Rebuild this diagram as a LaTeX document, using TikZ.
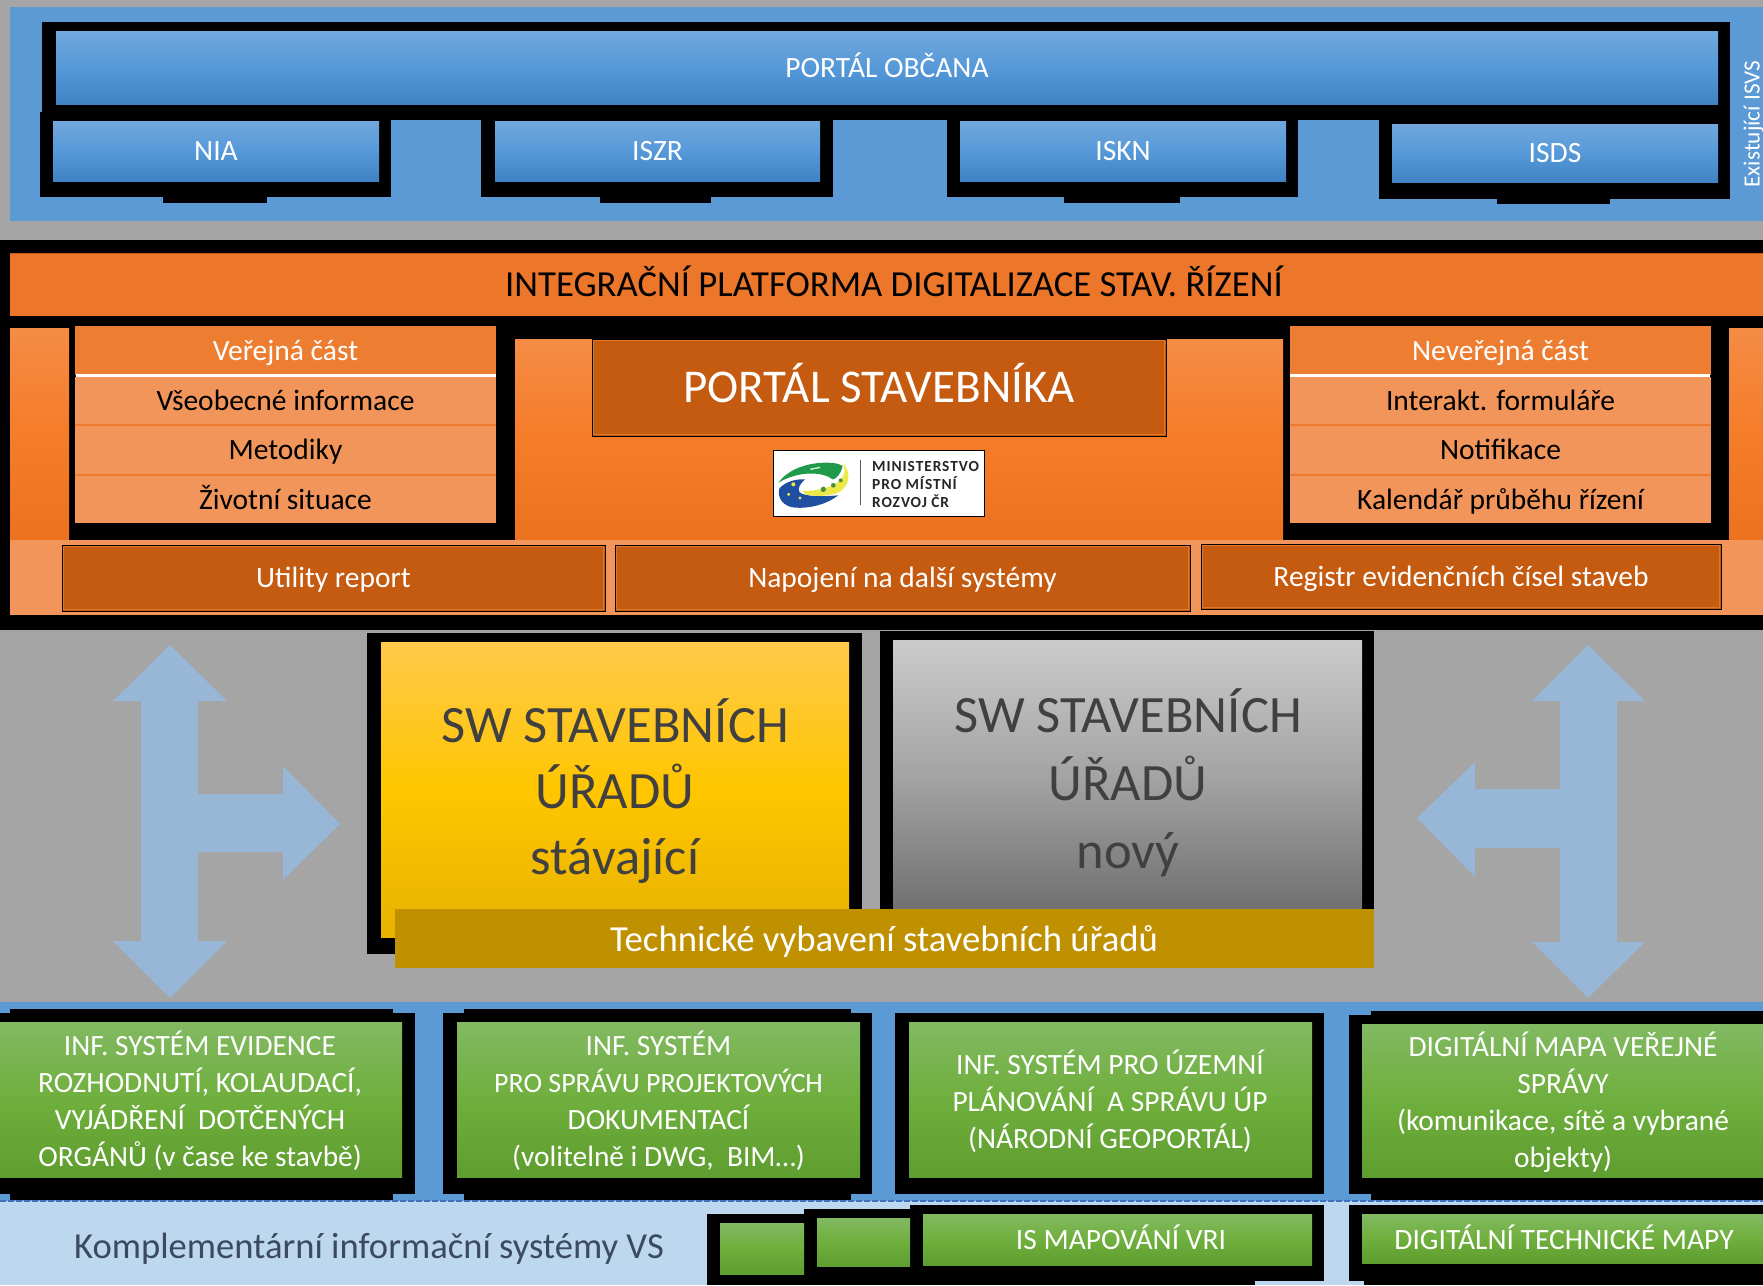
\documentclass[tikz,border=0pt]{standalone}
\usepackage{fontspec}
\setmainfont{Carlito}
\newfontfamily\logofont[LetterSpace=6]{Carlito Bold}
\definecolor{bggray}{HTML}{A5A5A5}
\definecolor{panelblue}{HTML}{5B9AD5}
\definecolor{lightblue}{HTML}{BDD7EE}
\definecolor{arrowblue}{HTML}{98B6D5}
\definecolor{barorange}{HTML}{EC772B}
\definecolor{headorange}{HTML}{ED7D31}
\definecolor{roworange}{HTML}{F2955A}
\definecolor{sepbright}{HTML}{F07A2E}
\definecolor{rust}{HTML}{C55A11}
\definecolor{rustin}{HTML}{E0762A}
\definecolor{techgold}{HTML}{BF9000}
\definecolor{darktext}{HTML}{404040}
\definecolor{slate}{HTML}{3B4A60}
\definecolor{dashblue}{HTML}{3F6FBF}
\definecolor{blua}{HTML}{71A7DC}
\definecolor{blub}{HTML}{5699D9}
\definecolor{bluc}{HTML}{3F83C4}
\definecolor{greena}{HTML}{82B962}
\definecolor{greenb}{HTML}{6FAF3D}
\definecolor{greenc}{HTML}{5E9D2F}
\definecolor{oranga}{HTML}{F58C45}
\definecolor{orangb}{HTML}{F57C29}
\definecolor{orangc}{HTML}{EC7220}
\definecolor{yella}{HTML}{FFC94A}
\definecolor{yellb}{HTML}{FFC600}
\definecolor{yellc}{HTML}{E8B200}
\definecolor{graya}{HTML}{CBCBCB}
\definecolor{grayb}{HTML}{A3A3A3}
\definecolor{grayc}{HTML}{6E6E6E}
\definecolor{logoblue}{HTML}{1F4FA0}
\definecolor{logogreen}{HTML}{1F9A4A}
\definecolor{logoyellow}{HTML}{EDE84A}
\definecolor{logotree}{HTML}{4E8F3A}
\tikzset{
  bluebox/.style={rectangle,top color=blua,bottom color=bluc,middle color=blub,text=white},
  greenbox/.style={rectangle,top color=greena,bottom color=greenc,middle color=greenb,text=white,align=center},
  orangeside/.style={rectangle,top color=oranga,bottom color=orangc,middle color=orangb},
  headbox/.style={rectangle,fill=headorange,text=white},
  rowbox/.style={rectangle,fill=roworange,text=black},
  rustbox/.style={rectangle,fill=rust,draw=black,line width=1pt,text=white},
  sizeS/.style={font=\fontsize{29.5}{37}\selectfont,text height=25pt,text depth=6pt},
  sizeG/.style={font=\fontsize{29.4}{37}\selectfont,text=white,align=center,inner sep=0pt},
  sizeM/.style={font=\fontsize{36.7}{44}\selectfont,text height=31pt,text depth=7.5pt},
  sizeL/.style={font=\fontsize{47}{52}\selectfont,text height=40pt,text depth=10pt},
  sizeX/.style={font=\fontsize{52.5}{#1}\selectfont,text=darktext,align=center,inner sep=0pt},
  logotext/.style={anchor=west,inner sep=0pt,font=\logofont\fontsize{15.4}{17}\selectfont,text=black!85},
  arrowshape/.style={fill=arrowblue,draw=none},
}
\newcommand\bx[7]{%
  \pgfmathsetmacro\bxw{#5-#3}\pgfmathsetmacro\bxh{#6-#4}%
  \pgfmathsetmacro\bxcx{(#5+#3)/2}\pgfmathsetmacro\bxcy{(#6+#4)/2}%
  \node[inner sep=0pt,outer sep=0pt,minimum width=\bxw pt,minimum height=\bxh pt,#1] (#2) at (\bxcx,\bxcy) {#7};}
\newcommand\kr[4]{\fill[black] (#1,#2) rectangle (#3,#4);}
\begin{document}
\begin{tikzpicture}[x=1pt,y=-1pt]
\useasboundingbox (0,0) rectangle (1763,1285);
\fill[bggray] (0,0) rectangle (1763,1285);
% top panel
\fill[panelblue] (10,7) rectangle (1763,221);
\kr{42}{22}{1730}{120}
\kr{40}{112}{391}{197}\kr{163}{197}{267}{203}
\kr{481}{120}{833}{197}\kr{600}{197}{711}{203}
\kr{947}{120}{1298}{197}\kr{1064}{197}{1180}{203}
\kr{1379}{120}{1730}{199}\kr{1497}{199}{1610}{204}
\bx{bluebox,sizeS}{obcan}{56}{31}{1718}{104}{PORTÁL OBČANA}
\bx{bluebox,sizeS}{nia}{53}{121}{379}{181}{NIA}
\bx{bluebox,sizeS}{iszr}{495}{121}{820}{181}{ISZR}
\bx{bluebox,sizeS}{iskn}{960}{121}{1286}{181}{ISKN}
\bx{bluebox,sizeS}{isds}{1392}{124}{1718}{182}{ISDS}
\node[text=white,font=\fontsize{23.2}{28}\selectfont,rotate=90,inner sep=0pt] (isvs) at (1753.5,124) {Existující ISVS};
% orange section
\fill[black] (0,240) rectangle (1763,630);
\bx{rectangle,fill=barorange}{integ}{10}{253}{1763}{316}{}
\fill[rust] (10,253) rectangle (1763,254);
\node[text=black,sizeM,inner sep=0pt] (integt) at (894,285) {INTEGRAČNÍ PLATFORMA DIGITALIZACE STAV. ŘÍZENÍ};
\bx{orangeside}{sidel}{10}{328}{69}{540}{}
\bx{orangeside}{sider}{1729}{328}{1763}{540}{}
\bx{orangeside}{centre}{515}{339}{1283}{540}{}
\bx{headbox,sizeS}{pubh}{75}{326}{496}{375}{Veřejná část}
\bx{rowbox,sizeS}{pub1}{75}{377}{496}{424}{Všeobecné informace}
\bx{rowbox,sizeS}{pub2}{75}{426}{496}{474}{Metodiky}
\bx{rowbox,sizeS}{pub3}{75}{476}{496}{523}{Životní situace}
\fill[white] (76,374) rectangle (496,377);
\fill[sepbright] (75,424) rectangle (496,426);
\fill[sepbright] (75,474) rectangle (496,476);
\bx{headbox,sizeS}{prih}{1290}{326}{1711}{375}{Neveřejná část}
\bx{rowbox,sizeS}{pri1}{1290}{377}{1711}{424}{Interakt. formuláře}
\bx{rowbox,sizeS}{pri2}{1290}{426}{1711}{474}{Notifikace}
\bx{rowbox,sizeS}{pri3}{1290}{476}{1711}{523}{Kalendář průběhu řízení}
\fill[white] (1290,374) rectangle (1710,377);
\fill[sepbright] (1290,424) rectangle (1711,426);
\fill[sepbright] (1290,474) rectangle (1711,476);
\fill[roworange] (10,540) rectangle (1763,615);
\bx{rustbox,sizeL}{stav}{592}{339}{1166}{436}{PORTÁL STAVEBNÍKA}
\draw[rustin,line width=.8pt] (593.5,340.5) rectangle (1164.5,434.5);
\bx{rustbox,sizeS}{util}{62}{545}{605}{611}{Utility report}
\bx{rustbox,sizeS}{napo}{615}{545}{1190}{611}{Napojení na další systémy}
\bx{rustbox,sizeS}{regi}{1201}{544}{1721}{609}{Registr evidenčních čísel staveb}
\draw[rustin,line width=.8pt] (63.5,546.5) rectangle (603.5,609.5);
\draw[rustin,line width=.8pt] (616.5,546.5) rectangle (1188.5,609.5);
\draw[rustin,line width=.8pt] (1202.5,545.5) rectangle (1719.5,607.5);
% logo
\bx{rectangle,fill=white,draw=black,line width=1pt}{logo}{773}{450}{984}{516}{}
\begin{scope}[shift={(770,446)},x=.3333pt,y=-.3333pt]
\fill[black!65] (271,42) rectangle (274,178);
\fill[logoblue] (28,128) .. controls (40,112) and (70,98) .. (105,100) .. controls (92,112) and (82,125) .. (88,138) .. controls (100,152) and (160,152) .. (205,148) .. controls (170,175) and (120,188) .. (75,185) .. controls (40,182) and (20,155) .. (28,128) -- cycle;
\fill[logogreen] (25,110) .. controls (55,70) and (110,50) .. (170,50) .. controls (190,50) and (205,52) .. (218,60) .. controls (212,85) and (200,98) .. (188,100) .. controls (160,78) and (90,72) .. (25,110) -- cycle;
\fill[logoyellow] (218,50) .. controls (245,80) and (240,120) .. (205,140) .. controls (175,152) and (130,152) .. (105,145) -- (98,135) .. controls (140,135) and (205,125) .. (222,85) .. controls (225,72) and (222,60) .. (218,50) -- cycle;
\fill[white!80!logogreen] (120,68) -- (150,62) -- (150,66) -- (122,72) -- cycle;
\fill[logotree] (160,130) circle (8);
\fill[logotree] (190,118) circle (7);
\fill[logotree] (212,103) circle (6);
\fill[logoyellow] (70,115) circle (6);
\fill[logoyellow] (56,145) circle (5);
\fill[logoyellow] (90,156) circle (5);
\end{scope}
\node[logotext] (l1) at (872,466) {MINISTERSTVO};
\node[logotext] (l2) at (872,483) {PRO MÍSTNÍ};
\node[logotext] (l3) at (872,501) {ROZVOJ ČR};
% middle
\fill[arrowshape] (170,645) -- (227,701) -- (198,701) -- (198,794) -- (283,794) -- (283,766) -- (340,824) -- (283,880) -- (283,852) -- (198,852) -- (198,941) -- (227,941) -- (170,998) -- (113,941) -- (141,941) -- (141,701) -- (113,701) -- cycle;
\fill[arrowshape] (1588,645) -- (1645,701) -- (1617,701) -- (1617,942) -- (1645,942) -- (1588,998) -- (1532,942) -- (1560,942) -- (1560,848) -- (1475,848) -- (1475,877) -- (1417,818) -- (1475,762) -- (1475,789) -- (1560,789) -- (1560,701) -- (1532,701) -- cycle;
\kr{367}{633}{862}{954}
\kr{880}{631}{1374}{915}
\bx{rectangle,top color=yella,bottom color=yellc,middle color=yellb}{yel}{381}{642}{849}{937}{}
\bx{rectangle,top color=graya,bottom color=grayc,middle color=grayb}{gry}{893}{640}{1362}{915}{}
\node[sizeX=66] (yelt) at (615,791) {SW STAVEBNÍCH\\ÚŘADŮ\\stávající};
\node[sizeX=68] (gryt) at (1128,783) {SW STAVEBNÍCH\\ÚŘADŮ\\nový};
\bx{rectangle,fill=techgold}{tech}{395}{909}{1374}{968}{}
\node[text=white,sizeM,inner sep=0pt] (techt) at (884,940) {Technické vybavení stavebních úřadů};
% bottom band
\fill[panelblue] (0,1002) rectangle (1763,1201);
\fill[lightblue] (0,1201) rectangle (1763,1285);
\kr{0}{1013}{415}{1194}\kr{10}{1009}{393}{1200}
\kr{443}{1013}{872}{1194}\kr{464}{1009}{851}{1200}
\kr{895}{1013}{1324}{1194}
\kr{1349}{1015}{1763}{1194}\kr{1371}{1011}{1763}{1200}
\draw[dashblue,line width=2pt,dash pattern=on 6pt off 2pt] (0,1201) -- (1763,1201);
\bx{greenbox}{g1}{0}{1022}{402}{1177}{}
\bx{greenbox}{g2}{457}{1022}{860}{1177}{}
\bx{greenbox}{g3}{909}{1022}{1312}{1177}{}
\bx{greenbox}{g4}{1362}{1024}{1763}{1177}{}
\node[sizeG] (g1t) at (200,1101) {INF. SYSTÉM EVIDENCE\\ROZHODNUTÍ, KOLAUDACÍ,\\VYJÁDŘENÍ\ \ DOTČENÝCH\\ORGÁNŮ (v čase ke stavbě)};
\node[sizeG] (g2t) at (658.5,1101) {INF. SYSTÉM\\{\fontsize{28}{37}\selectfont PRO SPRÁVU PROJEKTOVÝCH}\\DOKUMENTACÍ\\(volitelně i DWG,\ \ BIM…)};
\node[sizeG] (g3t) at (1110,1101) {INF. SYSTÉM PRO ÚZEMNÍ\\PLÁNOVÁNÍ\ \ A SPRÁVU ÚP\\(NÁRODNÍ GEOPORTÁL)};
\node[sizeG] (g4t) at (1563,1102) {DIGITÁLNÍ MAPA VEŘEJNÉ\\SPRÁVY\\(komunikace, sítě a vybrané\\objekty)};
\node[text=slate,font=\fontsize{36.6}{42}\selectfont,inner sep=0pt] (kompl) at (369,1249) {Komplementární informační systémy VS};
\kr{707}{1214}{804}{1285}
\kr{804}{1209}{923}{1285}
\kr{910}{1205}{1324}{1281}
\kr{1349}{1205}{1763}{1285}
\kr{804}{1281}{1255}{1285}
\fill[lightblue] (1255,1281) rectangle (1364,1285);
\bx{greenbox}{s1}{720}{1223}{804}{1274}{}
\bx{greenbox}{s2}{817}{1218}{910}{1266}{}
\bx{greenbox}{vri}{923}{1214}{1312}{1265}{}
\bx{greenbox}{dtm}{1362}{1214}{1763}{1263}{}
\node[text=white,sizeS,inner sep=0pt] (vrit) at (1121,1240) {IS MAPOVÁNÍ VRI};
\node[text=white,sizeS,inner sep=0pt] (dtmt) at (1564,1240) {DIGITÁLNÍ TECHNICKÉ MAPY};
\end{tikzpicture}
\end{document}
